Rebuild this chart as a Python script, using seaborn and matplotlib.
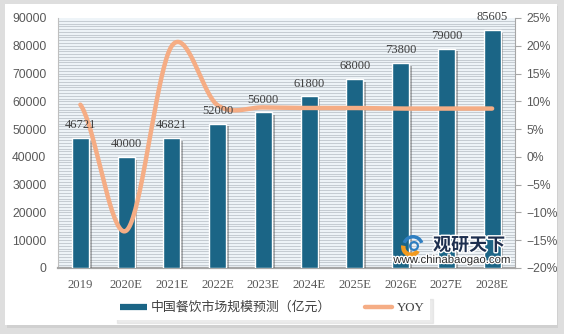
import numpy as np
import pandas as pd
import matplotlib
matplotlib.use("Agg")
import matplotlib.pyplot as plt
import seaborn as sns
from matplotlib import patheffects as pe
from matplotlib.patches import Rectangle, Wedge
from matplotlib.lines import Line2D

# ---- data ----
years = ["2019", "2020E", "2021E", "2022E", "2023E", "2024E", "2025E", "2026E", "2027E", "2028E"]
market = [46721, 40000, 46821, 52000, 56000, 61800, 68000, 73800, 79000, 85605]
yoy = [9.4, -13.3, 20.0, 9.3, 8.9, 8.8, 8.8, 8.7, 8.7, 8.7]
left_ticks = [0, 10000, 20000, 30000, 40000, 50000, 60000, 70000, 80000, 90000]
right_ticks = [-20, -15, -10, -5, 0, 5, 10, 15, 20, 25]
bar_label = "中国餐饮市场规模预测（亿元）"
line_label = "YOY"

BAR_C = "#1b6586"
LINE_C = "#f5ad85"
TXT_C = "#595959"

sns.set_theme(style="white")
plt.rcParams["font.family"] = ["Liberation Sans", "Noto Sans CJK SC", "DejaVu Sans"]
plt.rcParams["axes.unicode_minus"] = True

W, H = 564, 334
fig = plt.figure(figsize=(W / 100, H / 100), dpi=100)
fig.patch.set_facecolor("#dedede")
# white panel with soft shadow
fig.patches.append(Rectangle((7 / W, 6 / H), 551 / W, 322 / H, transform=fig.transFigure,
                             facecolor="#c8c8c8", edgecolor="none", zorder=-3, alpha=0.6))
fig.patches.append(Rectangle((5 / W, 9 / H), 552 / W, 321 / H, transform=fig.transFigure,
                             facecolor="white", edgecolor="none", zorder=-2))

ax = fig.add_axes([57.5 / W, (H - 268) / H, (515 - 57.5) / W, 250 / H])
ax.set_facecolor("#eef4f8")
for v in np.arange(1000, 90000, 1000):
    ax.axhline(v, color="#c5ccd2", lw=0.75, zorder=0)

df = pd.DataFrame({"year": years, "market": market})
sns.barplot(data=df, x="year", y="market", color=BAR_C, saturation=1, width=0.37,
            edgecolor="white", linewidth=1.0, ax=ax, zorder=3)
for p in ax.patches:
    p.set_path_effects([pe.SimplePatchShadow(offset=(2, -2), shadow_rgbFace="#555555", alpha=0.45),
                        pe.Normal()])

ax.set_ylim(0, 90000)
ax.set_yticks(left_ticks)
ax.set_yticklabels([str(t) for t in left_ticks], fontsize=8.7, color=TXT_C)
ax.set_xlim(-0.5, 9.5)
ax.set_xlabel("")
ax.set_ylabel("")
ax.tick_params(axis="y", length=0, pad=8)
ax.tick_params(axis="x", length=0, pad=8)
for lab in ax.get_xticklabels():
    lab.set_family("Liberation Serif")
    lab.set_fontsize(9.2)
    lab.set_color(TXT_C)
ax.spines["top"].set_visible(False)
ax.spines["bottom"].set_color("#a6a6a6")
ax.spines["bottom"].set_linewidth(1.6)
ax.spines["left"].set_color("#bfbfbf")
ax.spines["left"].set_linewidth(0.8)
ax.spines["right"].set_visible(False)

# ---- smoothed YOY line (Catmull-Rom through the data points) ----
def smooth(yv, n=40):
    yv = np.asarray(yv, float)
    m = np.zeros_like(yv)
    m[1:-1] = (yv[2:] - yv[:-2]) / 2
    m[0] = (yv[1] - yv[0]) / 2
    m[-1] = (yv[-1] - yv[-2]) / 2
    xs, ys = [], []
    for i in range(len(yv) - 1):
        t = np.linspace(0, 1, n, endpoint=False)
        h00 = 2 * t**3 - 3 * t**2 + 1
        h10 = t**3 - 2 * t**2 + t
        h01 = -2 * t**3 + 3 * t**2
        h11 = t**3 - t**2
        xs.append(i + t)
        ys.append(h00 * yv[i] + h10 * m[i] + h01 * yv[i + 1] + h11 * m[i + 1])
    xs.append(np.array([len(yv) - 1.0]))
    ys.append(np.array([yv[-1]]))
    return np.concatenate(xs), np.concatenate(ys)

ax2 = ax.twinx()
sx, sy = smooth(yoy)
sns.lineplot(x=sx, y=sy, sort=False, estimator=None, color=LINE_C, lw=3.2,
             ax=ax2, zorder=5)
ax2.set_ylim(-20, 25)
ax2.set_yticks(right_ticks)
ax2.set_yticklabels([(f"\u2212{-t}%" if t < 0 else f"{t}%") for t in right_ticks],
                    fontsize=8.7, color=TXT_C)
ax2.tick_params(axis="y", length=4, width=0.8, color="#a6a6a6", direction="out", pad=4)
ax2.set_xlim(-0.5, 9.5)
for s in ["top", "left", "bottom"]:
    ax2.spines[s].set_visible(False)
ax2.spines["right"].set_color("#a6a6a6")
ax2.spines["right"].set_linewidth(0.8)
ax2.set_ylabel("")

# bar value labels drawn above the line
for i, v in enumerate(market):
    ax2.annotate(str(v), (i, v), xycoords=ax.transData, xytext=(0, 7),
                 textcoords="offset points", ha="center", va="baseline",
                 fontsize=9, color="#404040", family="Liberation Serif", zorder=8)

# ---- legend ----
handles = [Line2D([0], [0], color=BAR_C, lw=4.5, solid_capstyle="butt"),
           Line2D([0], [0], color=LINE_C, lw=3.2, solid_capstyle="round")]
leg = fig.legend(handles, [bar_label, line_label], loc="center",
                 bbox_to_anchor=(272 / W, (H - 308) / H), ncol=2, frameon=True,
                 facecolor="white", edgecolor="none", fancybox=False,
                 fontsize=9.3, handlelength=2.1, handletextpad=0.35,
                 columnspacing=2.6, borderpad=0.45,
                 shadow={"color": "#d8d8d8", "alpha": 0.5, "ox": 2, "oy": -2})
for t in leg.get_texts():
    t.set_color("#404040")
leg.get_texts()[1].set_family("Liberation Serif")

# ---- watermark ----
lax = fig.add_axes([396 / W, (H - 258) / H, 34 / W, 24 / H])
lax.set_xlim(0, 34)
lax.set_ylim(0, 24)
lax.axis("off")
lax.add_patch(Wedge((17, 12), 11, 20, 160, width=3.5, facecolor="#2f7fc1", edgecolor="none"))
lax.add_patch(Wedge((15, 11), 10, 170, 330, width=4.5, facecolor="#f29a1f", edgecolor="none"))
lax.add_patch(Wedge((18, 12), 5, 0, 360, width=2.2, facecolor="#2f7fc1", edgecolor="none"))
fig.text(433 / W, (H - 245) / H, "观研天下", fontsize=13, fontweight="bold",
         color="#1d2f4f", family="Noto Sans CJK SC", va="center", ha="left", zorder=10,
         path_effects=[pe.withStroke(linewidth=2, foreground="white")])
fig.text(452 / W, (H - 260) / H, "www.chinabaogao.com", fontsize=8.2, color="#2a2a2a",
         va="center", ha="center", zorder=10,
         path_effects=[pe.withStroke(linewidth=1.8, foreground="white")])

fig.savefig("out.png", dpi=100, facecolor=fig.get_facecolor())
